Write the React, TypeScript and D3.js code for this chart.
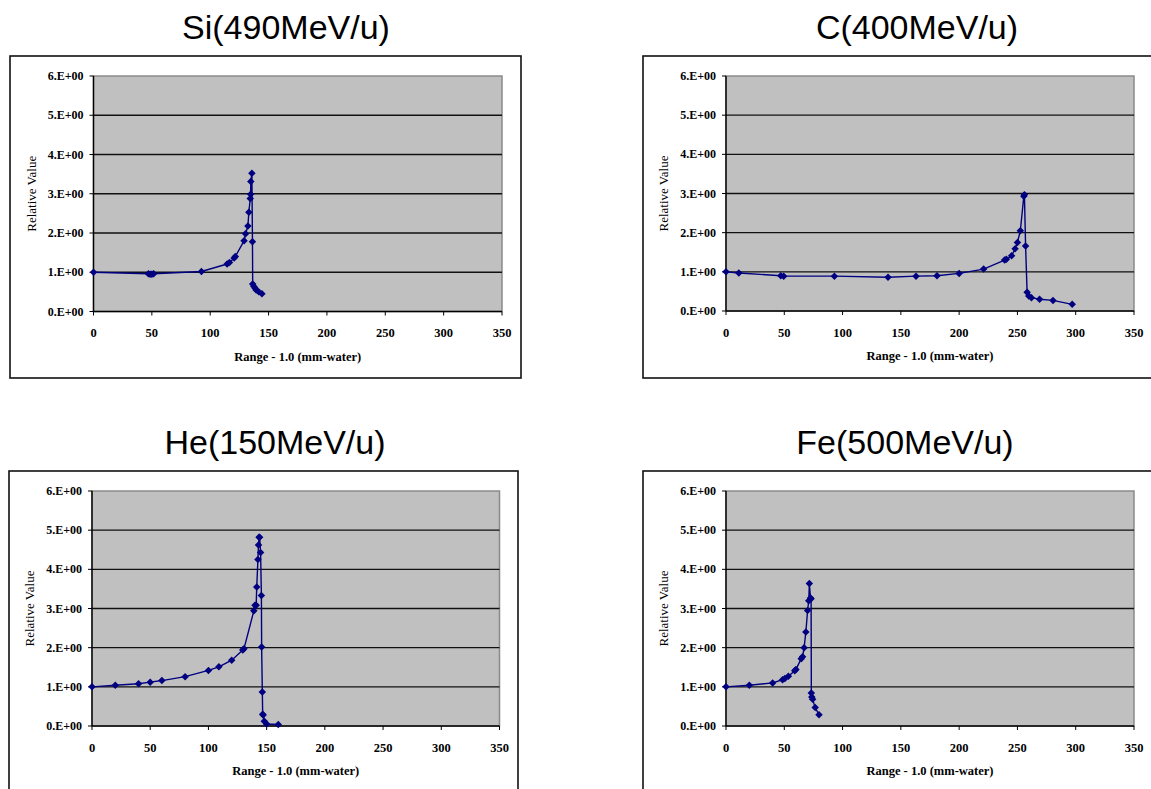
import React from "react";
import * as d3 from "d3";

// ---- data ----
const siX = [0, 47, 48.5, 50, 51.5, 92.5, 114.5, 116.5, 120.5, 121.5, 129, 130.3, 132.3, 133.1, 134.3, 134.6, 134.8, 135.7, 136.2, 136.4, 137.4, 138.5, 139.4, 141.7, 144.3];
const siY = [1.0, 0.96, 0.95, 0.95, 0.96, 1.02, 1.21, 1.25, 1.36, 1.4, 1.8, 1.98, 2.18, 2.53, 2.88, 2.99, 3.31, 3.52, 1.78, 0.7, 0.64, 0.59, 0.55, 0.5, 0.45];

const cX = [0, 11, 47, 49.5, 93, 139, 163, 181, 200, 221, 239, 240.5, 245, 248, 250, 252.5, 255.5, 256, 257, 258.3, 259.7, 262, 269, 280.5, 297];
const cY = [1.0, 0.97, 0.9, 0.89, 0.89, 0.86, 0.89, 0.9, 0.96, 1.07, 1.3, 1.32, 1.41, 1.59, 1.75, 2.05, 2.93, 2.97, 1.66, 0.48, 0.38, 0.34, 0.3, 0.27, 0.17];

const heX = [0, 20, 40, 50, 60, 80, 100, 109, 120, 129.5, 130.5, 139, 140, 141, 141.5, 142.5, 143, 143.5, 144, 144.8, 145.5, 145.7, 146.3, 146.6, 147, 148, 150, 160];
const heY = [1.0, 1.04, 1.08, 1.12, 1.16, 1.26, 1.42, 1.51, 1.68, 1.94, 1.97, 2.94, 3.08, 3.08, 3.55, 4.25, 4.62, 4.82, 4.82, 4.43, 3.33, 2.02, 0.87, 0.3, 0.28, 0.12, 0.05, 0.04];

const feX = [0, 20, 40, 48.5, 50.5, 53.5, 59, 60, 64.5, 65.7, 67, 68.5, 70, 71, 71.5, 72.5, 73, 73.2, 73.6, 74.3, 76.5, 79.8];
const feY = [1.0, 1.04, 1.1, 1.18, 1.21, 1.27, 1.41, 1.44, 1.72, 1.77, 2.0, 2.4, 2.95, 3.2, 3.64, 3.27, 3.25, 0.84, 0.74, 0.68, 0.47, 0.29];

const xTicks = [0, 50, 100, 150, 200, 250, 300, 350];
const yTicks = [0, 1, 2, 3, 4, 5, 6];
const yTickLabels = ["0.E+00", "1.E+00", "2.E+00", "3.E+00", "4.E+00", "5.E+00", "6.E+00"];
const titles = ["Si(490MeV/u)", "C(400MeV/u)", "He(150MeV/u)", "Fe(500MeV/u)"];
const xTitle = "Range - 1.0 (mm-water)";
const yTitle = "Relative Value";

type PanelProps = {
  title: string;
  titleX: number;
  titleY: number;
  frame: [number, number, number, number];
  plot: [number, number, number, number];
  xs: number[];
  ys: number[];
};

const NAVY = "#000080";
const SERIF = "'Liberation Serif', 'Times New Roman', serif";

function Panel({ title, titleX, titleY, frame, plot, xs, ys }: PanelProps) {
  const [pl, pt, pr, pb] = plot;
  const x = d3.scaleLinear().domain([0, 350]).range([pl, pr]);
  const y = d3.scaleLinear().domain([0, 6]).range([pb, pt]);
  const pts = xs.map((v, i) => [v, ys[i]] as [number, number]);
  const line = d3
    .line<[number, number]>()
    .x((d) => x(d[0]))
    .y((d) => y(d[1]));
  const marker = d3.symbol().type(d3.symbolSquare).size(28)() as string;
  const [fl, ft, fr, fb] = frame;
  return (
    <g>
      <text
        x={titleX}
        y={titleY}
        textAnchor="middle"
        fontFamily="'Liberation Sans', Arial, sans-serif"
        fontSize={34}
        fill="#000"
      >
        {title}
      </text>
      <rect x={fl} y={ft} width={fr - fl} height={fb - ft} fill="#fff" stroke="#111" strokeWidth={1.6} />
      <rect x={pl} y={pt} width={pr - pl} height={pb - pt} fill="#c0c0c0" stroke="#8a8a8a" strokeWidth={1.5} />
      {yTicks.slice(1, 6).map((t) => (
        <line key={"g" + t} x1={pl} x2={pr} y1={y(t)} y2={y(t)} stroke="#111" strokeWidth={1.4} />
      ))}
      <line x1={pl} x2={pl} y1={pt} y2={pb} stroke="#000" strokeWidth={1.4} />
      <line x1={pl} x2={pr} y1={pb} y2={pb} stroke="#000" strokeWidth={1.4} />
      {yTicks.map((t, i) => (
        <g key={"y" + t}>
          <line x1={pl - 4} x2={pl} y1={y(t)} y2={y(t)} stroke="#000" strokeWidth={1} />
          <text
            x={pl - 10}
            y={y(t) + 4}
            textAnchor="end"
            fontFamily={SERIF}
            fontSize={12}
            fontWeight="bold"
            fill="#000"
          >
            {yTickLabels[i]}
          </text>
        </g>
      ))}
      {xTicks.map((t) => (
        <g key={"x" + t}>
          <line x1={x(t)} x2={x(t)} y1={pb} y2={pb + 4} stroke="#000" strokeWidth={1} />
          <text
            x={x(t)}
            y={pb + 25.5}
            textAnchor="middle"
            fontFamily={SERIF}
            fontSize={12.5}
            fontWeight="bold"
            fill="#000"
          >
            {t}
          </text>
        </g>
      ))}
      <text
        x={(pl + pr) / 2}
        y={pb + 49}
        textAnchor="middle"
        fontFamily={SERIF}
        fontSize={12.5}
        fontWeight="bold"
        fill="#000"
      >
        {xTitle}
      </text>
      <text
        transform={`translate(${pl - 58},${(pt + pb) / 2}) rotate(-90)`}
        textAnchor="middle"
        fontFamily={SERIF}
        fontSize={13}
        fill="#000"
      >
        {yTitle}
      </text>
      <path d={line(pts) as string} fill="none" stroke={NAVY} strokeWidth={1.4} />
      {pts.map((d, i) => (
        <path
          key={"m" + i}
          d={marker}
          transform={`translate(${x(d[0])},${y(d[1])}) rotate(45)`}
          fill={NAVY}
        />
      ))}
    </g>
  );
}

export default function App() {
  return (
    <svg
      width={1151}
      height={789}
      style={{ position: "absolute", left: 0, top: 0, background: "#fff" }}
    >
      <rect x={0} y={0} width={1151} height={789} fill="#fff" />
      <Panel title={titles[0]} titleX={286} titleY={39} frame={[10, 56, 521, 378]} plot={[93.5, 76, 502, 311.5]} xs={siX} ys={siY} />
      <Panel title={titles[1]} titleX={917} titleY={39} frame={[643, 56, 1160, 378]} plot={[726, 76, 1134, 311]} xs={cX} ys={cY} />
      <Panel title={titles[2]} titleX={275} titleY={454} frame={[9, 471, 518, 800]} plot={[92, 491, 499.5, 726]} xs={heX} ys={heY} />
      <Panel title={titles[3]} titleX={905} titleY={454} frame={[643, 471, 1160, 800]} plot={[726, 491, 1134, 726]} xs={feX} ys={feY} />
    </svg>
  );
}
